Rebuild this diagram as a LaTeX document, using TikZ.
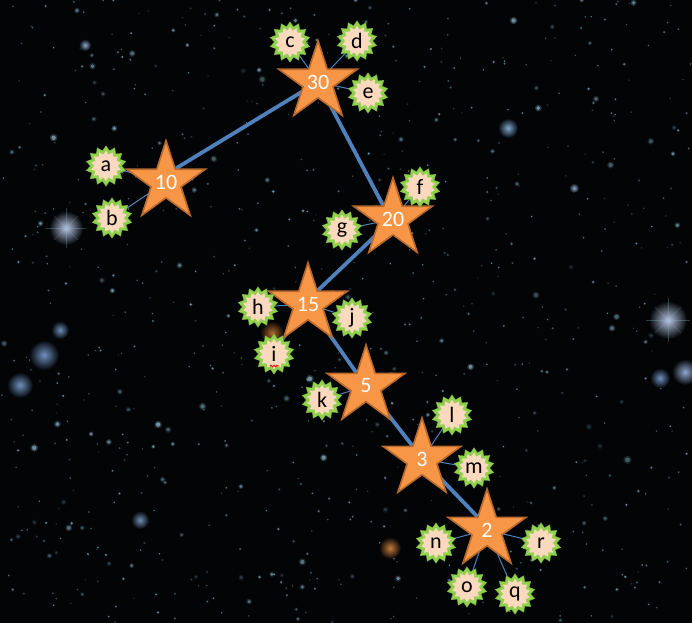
\documentclass[tikz,border=0pt]{standalone}
\usepackage{fontspec}
\setmainfont{Carlito}
\usetikzlibrary{shapes.geometric,decorations.pathmorphing}
\definecolor{bgcol}{HTML}{020406}
\definecolor{starorange}{HTML}{F79646}
\definecolor{starborder}{HTML}{B8692E}
\definecolor{linkblue}{HTML}{4F81BD}
\definecolor{burstgreen}{HTML}{92D050}
\definecolor{burstdark}{HTML}{6FA83A}
\definecolor{burstfill}{HTML}{FBD9BE}
\definecolor{dotcol}{HTML}{8FBCD0}
\tikzset{
  bigstar/.style={star, star points=5, star point ratio=2.618, minimum size=82pt,
    inner sep=0pt, fill=starorange, draw=starborder, line width=1.6pt,
    text=white, font=\fontsize{22}{22}\selectfont},
  burst/.style={star, star points=14, star point ratio=1.3, minimum size=35pt,
    inner sep=0pt, fill=burstfill, draw=burstgreen, line width=2.4pt,
    preaction={draw=burstdark, line width=3.6pt},
    text=black, font=\fontsize{22}{22}\selectfont},
  thick link/.style={draw=linkblue, line width=3.8pt},
  thin link/.style={draw=linkblue, line width=1pt},
  glow/.style={inner color=glowtmp, outer color=bgcol}
}
\begin{document}
\begin{tikzpicture}[x=1pt,y=-1pt]
\fill[bgcol] (0,0) rectangle (692,623);
\useasboundingbox (0,0) rectangle (692,623);
% background star field
\pgfmathsetseed{4242}
\foreach \i in {1,...,800}{
  \pgfmathsetmacro{\px}{692*rnd}
  \pgfmathsetmacro{\py}{623*rnd}
  \pgfmathsetmacro{\pr}{0.6+2.4*rnd*rnd*rnd}
  \pgfmathsetmacro{\po}{0.15+0.55*rnd}
  \pgfmathsetmacro{\pq}{0.4*\po}
  \pgfmathsetmacro{\pR}{1.7*\pr}
  \fill[dotcol, opacity=\pq] (\px,\py) circle[radius=\pR pt];
  \fill[dotcol, opacity=\po] (\px,\py) circle[radius=\pr pt];
}
% glowing stars
\foreach \gx/\gy/\gr/\gc in {66/228/17/B9C8E6, 668/320/19/B9C8E6, 508/128/10/7FA8D0,
  44/355/15/7090C0, 20/385/13/7090C0, 685/372/13/90A8D0, 660/378/10/7090C0,
  390/548/11/C87A3A, 272/333/12/B0652C, 574/188/5/90A8D0, 85/45/6/90A8D0,
  140/520/9/6F90B8, 60/330/9/6F90B8}{
  \definecolor{glowtmp}{HTML}{\gc}
  \shade[glow] (\gx,\gy) circle[radius=\gr pt];
}
\foreach \gx/\gy/\gl in {66/228/20, 668/320/22}{
  \draw[dotcol, opacity=0.3, line width=0.8pt] (\gx-\gl,\gy) -- (\gx+\gl,\gy);
  \draw[dotcol, opacity=0.3, line width=0.8pt] (\gx,\gy-\gl) -- (\gx,\gy+\gl);
  \draw[dotcol, opacity=0.25, line width=0.6pt] (\gx-0.6*\gl,\gy-0.6*\gl) -- (\gx+0.6*\gl,\gy+0.6*\gl);
  \draw[dotcol, opacity=0.25, line width=0.6pt] (\gx-0.6*\gl,\gy+0.6*\gl) -- (\gx+0.6*\gl,\gy-0.6*\gl);
}
% coordinates of the nodes
\coordinate (p30) at (318,82);
\coordinate (p10) at (166,182);
\coordinate (p20) at (393,219);
\coordinate (p15) at (308,304);
\coordinate (p5) at (366,386);
\coordinate (p3) at (422,459);
\coordinate (p2) at (487,530);
% stars (invisible pass for anchors)
\node[bigstar, draw=none, fill=none, text opacity=0] (s30) at (p30) {30};
\node[bigstar, draw=none, fill=none, text opacity=0] (s10) at (p10) {10};
\node[bigstar, draw=none, fill=none, text opacity=0] (s20) at (p20) {20};
\node[bigstar, draw=none, fill=none, text opacity=0] (s15) at (p15) {15};
\node[bigstar, draw=none, fill=none, text opacity=0] (s5) at (p5) {5};
\node[bigstar, draw=none, fill=none, text opacity=0] (s3) at (p3) {3};
\node[bigstar, draw=none, fill=none, text opacity=0] (s2) at (p2) {2};
% letter anchors
\foreach \t/\tx/\ty in {c/290/42, d/357/41, e/368/93, a/106/166, b/112/218, f/420/187,
  g/342/230, h/258/307, j/352/318, i/274/354, k/322/400, l/452/415, m/474/468,
  n/436/543, r/541/543, o/467/587, q/515/594}{
  \coordinate (\t) at (\tx,\ty);
}
% thin links
\foreach \s/\t in {s30/c, s30/d, s30/e, s10/a, s10/b, s20/f, s20/g, s15/h, s15/j, s15/i,
  s5/k, s3/l, s3/m, s2/n, s2/r, s2/o, s2/q}{
  \draw[thin link] (\s.center) -- (\t);
}
% thick links
\draw[thick link] (s30.center) -- (s10.inner point 5);
\draw[thick link] (s30.center) -- (s20.inner point 1);
\draw[thick link] (s20.center) -- (s15.inner point 5);
\draw[thick link] (s15.center) -- (s5.inner point 1);
\draw[thick link] (s5.center) -- (s3.inner point 1);
\draw[thick link] (s3.center) -- (s2.inner point 1);
% visible stars
\node[bigstar] (v30) at (p30) {30};
\node[bigstar] (v10) at (p10) {10};
\node[bigstar] (v20) at (p20) {20};
\node[bigstar] (v15) at (p15) {15};
\node[bigstar] (v5) at (p5) {5};
\node[bigstar] (v3) at (p3) {3};
\node[bigstar] (v2) at (p2) {2};
% letter bursts
\foreach \t in {c,d,e,a,b,f,g,h,j,i,k,l,m,n,r,o,q}{
  \node[burst] (b\t) at (\t) {\t};
}
\draw[red, line width=0.8pt, decorate, decoration={snake, amplitude=0.9pt, segment length=3pt}]
  (270,366) -- (279,366);
\end{tikzpicture}
\end{document}
